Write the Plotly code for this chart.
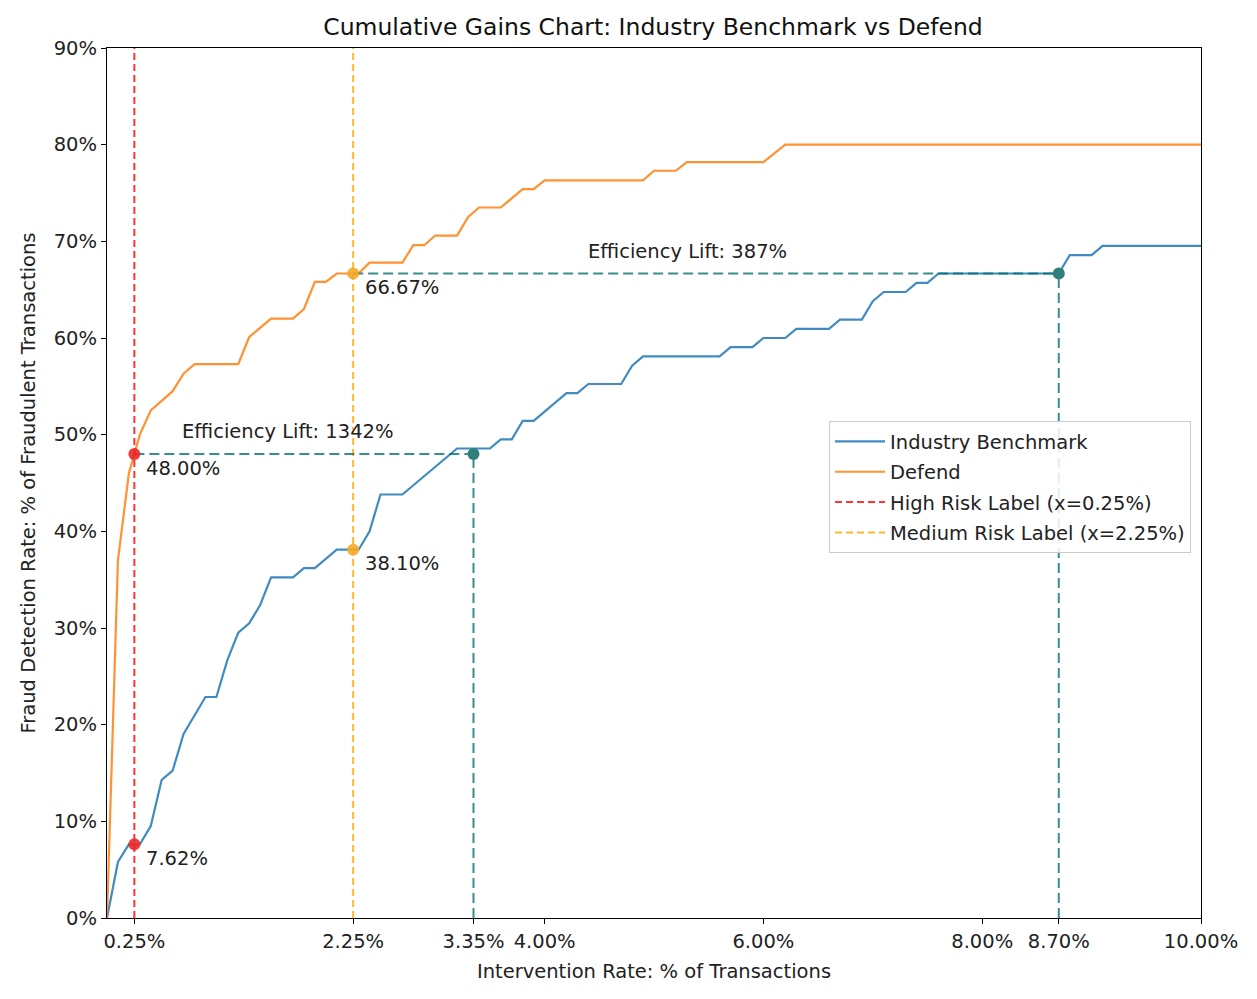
import plotly.graph_objects as go

# ---- data ----
bench_x = [0, 0.1, 0.2, 0.3, 0.4, 0.5, 0.6, 0.7, 0.9, 1.0, 1.1, 1.2, 1.3, 1.4, 1.5, 1.7, 1.8, 1.9,
           2.1, 2.3, 2.4, 2.5, 2.7, 3.2, 3.5, 3.6, 3.7, 3.8, 3.9, 4.2, 4.3, 4.4, 4.7, 4.8, 4.9, 5.6,
           5.7, 5.9, 6.0, 6.2, 6.3, 6.6, 6.7, 6.9, 7.0, 7.1, 7.3, 7.4, 7.5, 7.6, 8.7, 8.8, 9.0, 9.1, 10.0]
bench_y = [0, 5.8, 7.62, 7.62, 9.52, 14.29, 15.24, 19.05, 22.86, 22.86, 26.67, 29.52, 30.48, 32.38,
           35.24, 35.24, 36.19, 36.19, 38.10, 38.10, 40.0, 43.81, 43.81, 48.57, 48.57, 49.52, 49.52,
           51.43, 51.43, 54.29, 54.29, 55.24, 55.24, 57.14, 58.10, 58.10, 59.05, 59.05, 60.0, 60.0,
           60.95, 60.95, 61.90, 61.90, 63.81, 64.76, 64.76, 65.71, 65.71, 66.67, 66.67, 68.57, 68.57,
           69.52, 69.52]

defend_x = [0, 0.1, 0.2, 0.3, 0.4, 0.5, 0.6, 0.7, 0.8, 1.2, 1.3, 1.5, 1.7, 1.8, 1.9, 2.0, 2.1, 2.3,
            2.4, 2.7, 2.8, 2.9, 3.0, 3.2, 3.3, 3.4, 3.6, 3.8, 3.9, 4.0, 4.9, 5.0, 5.2, 5.3, 6.0, 6.2, 10.0]
defend_y = [0, 37.0, 46.0, 50.0, 52.5, 53.5, 54.5, 56.3, 57.3, 57.3, 60.1, 62.0, 62.0, 63.0, 65.8,
            65.8, 66.67, 66.67, 67.8, 67.8, 69.6, 69.6, 70.6, 70.6, 72.5, 73.5, 73.5, 75.4, 75.4,
            76.3, 76.3, 77.3, 77.3, 78.2, 78.2, 80.0, 80.0]

high_risk_x = 0.25
medium_risk_x = 2.25
high_vals = [48.00, 7.62]        # Defend, Benchmark at x=0.25
medium_vals = [66.67, 38.10]     # Defend, Benchmark at x=2.25
match_x = [3.35, 8.70]           # benchmark intervention needed to match Defend
match_y = [48.00, 66.67]
lift_labels = ["Efficiency Lift: 1342%", "Efficiency Lift: 387%"]

x_tickvals = [0.25, 2.25, 3.35, 4.00, 6.00, 8.00, 8.70, 10.00]
x_ticktext = ["0.25%", "2.25%", "3.35%", "4.00%", "6.00%", "8.00%", "8.70%", "10.00%"]
y_tickvals = [0, 10, 20, 30, 40, 50, 60, 70, 80, 90]
y_ticktext = ["0%", "10%", "20%", "30%", "40%", "50%", "60%", "70%", "80%", "90%"]

assert len(bench_x) == len(bench_y) and len(defend_x) == len(defend_y)

# ---- styles ----
FONT = "DejaVu Sans"
FS = 19.5
BLUE = "rgba(31,119,180,0.85)"
ORANGE = "rgba(255,127,14,0.85)"
RED = "rgba(255,0,0,0.8)"
GOLD = "rgba(255,165,0,0.8)"
TEAL = "rgba(0,110,110,0.78)"
TEAL_DOT = "#2f7f7c"

fig = go.Figure()
fig.add_trace(go.Scatter(x=bench_x, y=bench_y, mode="lines", name="Industry Benchmark",
                         line=dict(color=BLUE, width=2.2), legendgroup="g1"))
fig.add_trace(go.Scatter(x=defend_x, y=defend_y, mode="lines", name="Defend",
                         line=dict(color=ORANGE, width=2.2), legendgroup="g2"))
fig.add_trace(go.Scatter(x=[high_risk_x, high_risk_x], y=[0, 90], mode="lines",
                         name="High Risk Label (x=0.25%)",
                         line=dict(color=RED, width=2, dash="7px,4px"), legendgroup="g3"))
fig.add_trace(go.Scatter(x=[medium_risk_x, medium_risk_x], y=[0, 90], mode="lines",
                         name="Medium Risk Label (x=2.25%)",
                         line=dict(color=GOLD, width=2, dash="7px,4px"), legendgroup="g4"))

# teal matching lines
for i in range(2):
    start_x = high_risk_x if i == 0 else medium_risk_x
    fig.add_trace(go.Scatter(x=[start_x, match_x[i]], y=[match_y[i], match_y[i]], mode="lines",
                             line=dict(color=TEAL, width=2, dash="10px,5px"), showlegend=False,
                             hoverinfo="skip"))
    fig.add_trace(go.Scatter(x=[match_x[i], match_x[i]], y=[0, match_y[i]], mode="lines",
                             line=dict(color=TEAL, width=2, dash="10px,5px"), showlegend=False,
                             hoverinfo="skip"))

# markers
fig.add_trace(go.Scatter(x=[high_risk_x, high_risk_x], y=high_vals, mode="markers",
                         marker=dict(color="rgba(235,40,40,0.9)", size=12), showlegend=False))
fig.add_trace(go.Scatter(x=[medium_risk_x, medium_risk_x], y=medium_vals, mode="markers",
                         marker=dict(color="rgba(245,170,40,0.9)", size=12), showlegend=False))
fig.add_trace(go.Scatter(x=match_x, y=match_y, mode="markers",
                         marker=dict(color=TEAL_DOT, size=12), showlegend=False))

annotations = []
for xv, vals in ((high_risk_x, high_vals), (medium_risk_x, medium_vals)):
    for v in vals:
        annotations.append(dict(x=xv, y=v, text=f"{v:.2f}%", showarrow=False, xanchor="left",
                                yanchor="middle", xshift=10, yshift=-14,
                                font=dict(family=FONT, size=FS, color="#222222")))
lift_pos = [(1.655, 50.3), (5.31, 69.0)]
for (lx, ly), txt in zip(lift_pos, lift_labels):
    annotations.append(dict(x=lx, y=ly, text=txt, showarrow=False, xanchor="center",
                            yanchor="middle", font=dict(family=FONT, size=FS, color="#222222")))

fig.update_layout(
    width=1257, height=999,
    margin=dict(l=99, r=64, t=40, b=89),
    paper_bgcolor="white", plot_bgcolor="white",
    font=dict(family=FONT, size=FS, color="#222222"),
    title=dict(text="Cumulative Gains Chart: Industry Benchmark vs Defend",
               x=645 / 1257, xanchor="center", y=1 - 19 / 999, yanchor="middle", yref="container",
               font=dict(family=FONT, size=23.5, color="#111111")),
    xaxis=dict(range=[0, 10], tickvals=x_tickvals, ticktext=x_ticktext, showgrid=False,
               zeroline=False, showline=True, mirror=True, linecolor="black", linewidth=1.2,
               ticks="outside", ticklen=5, tickcolor="black",
               title=dict(text="Intervention Rate: % of Transactions", standoff=12,
                          font=dict(family=FONT, size=FS))),
    yaxis=dict(range=[0, 90], tickvals=y_tickvals, ticktext=y_ticktext, showgrid=False,
               zeroline=False, showline=True, mirror=True, linecolor="black", linewidth=1.2,
               ticks="outside", ticklen=5, tickcolor="black",
               title=dict(text="Fraud Detection Rate: % of Fraudulent Transactions", standoff=12,
                          font=dict(family=FONT, size=FS))),
    legend=dict(x=0.9909, y=0.571, xanchor="right", yanchor="top",
                bgcolor="rgba(255,255,255,0.85)", bordercolor="#cccccc", borderwidth=1,
                font=dict(family=FONT, size=FS), tracegroupgap=2, itemwidth=50),
    annotations=annotations,
    showlegend=True,
)

fig.write_html("out.html")
